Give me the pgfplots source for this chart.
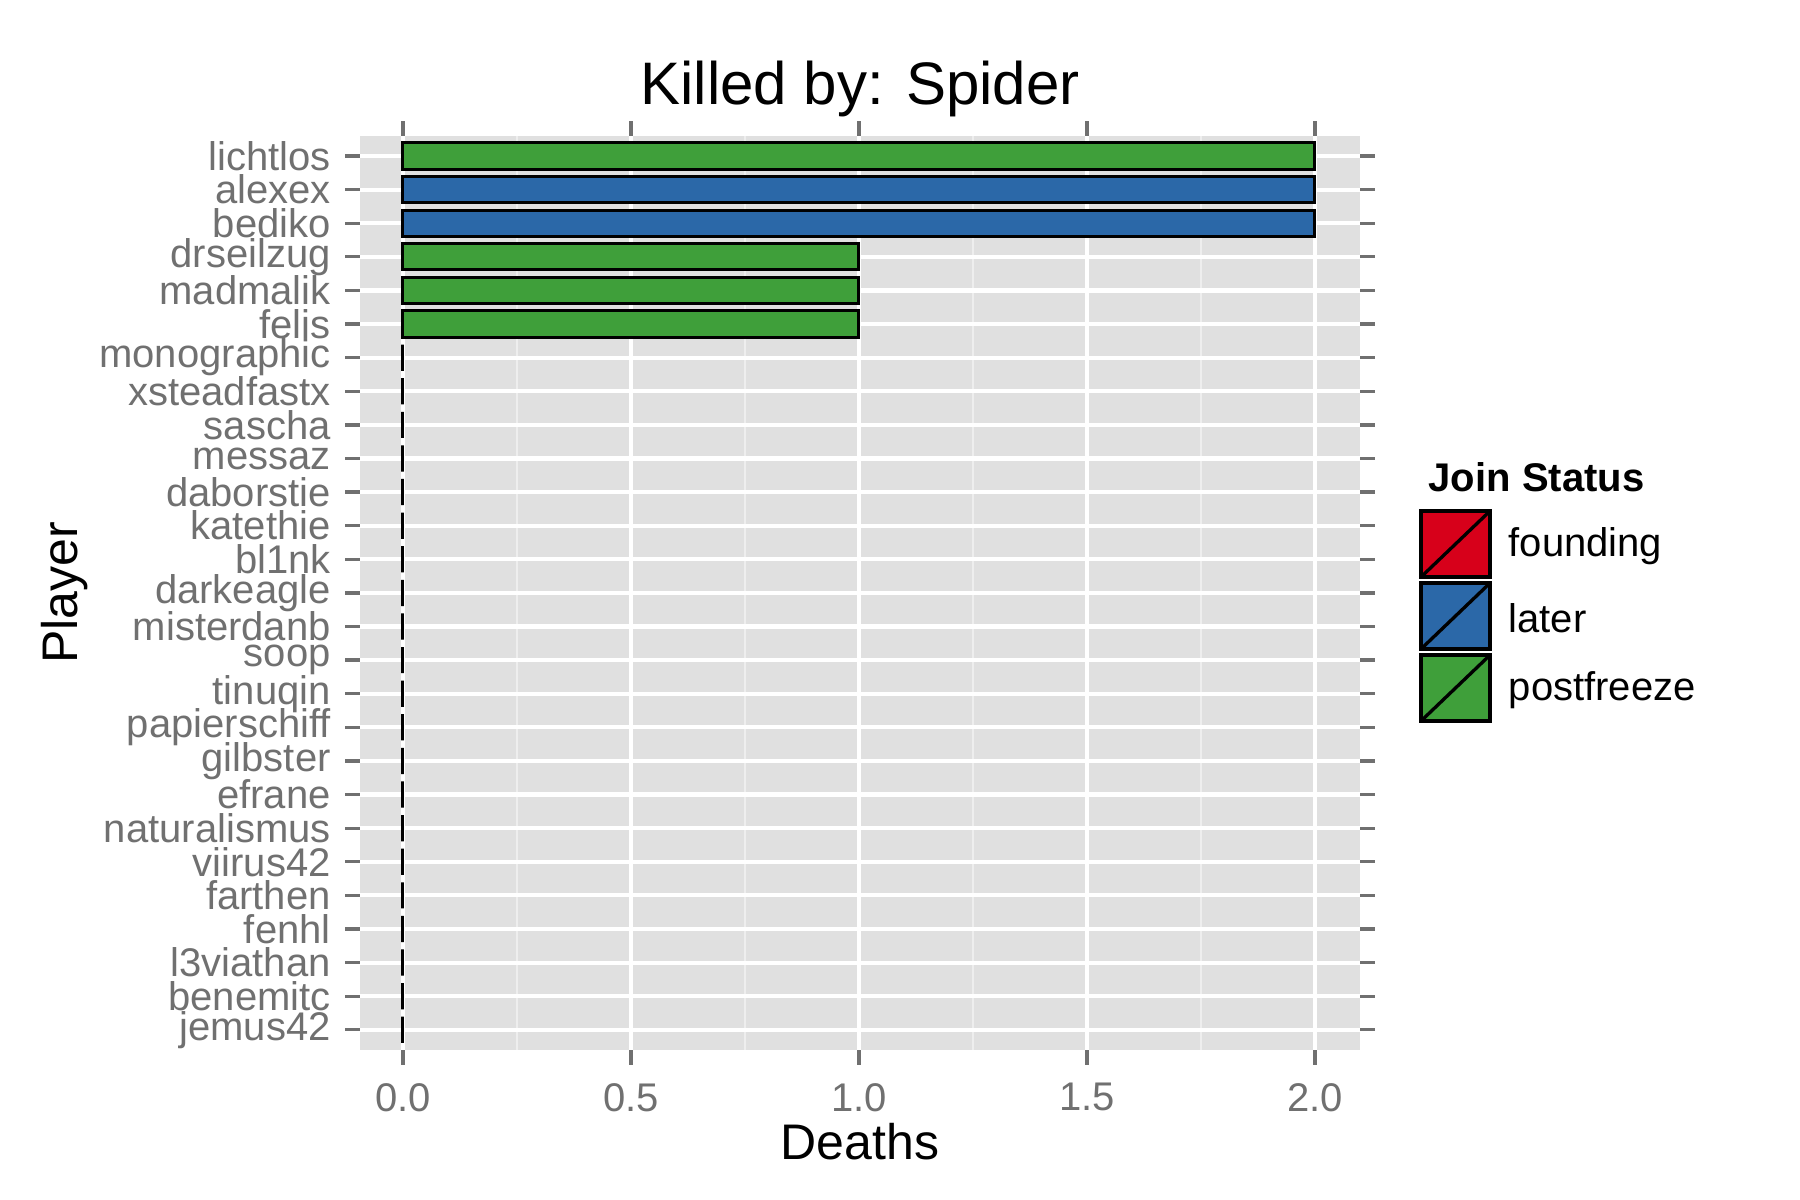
\documentclass[border=0pt]{standalone}
\usepackage{pgfplots}
\pgfplotsset{compat=1.18}
\usepackage{fontspec}
\setmainfont{Liberation Sans}
\definecolor{cfound}{HTML}{D7001A}
\definecolor{clater}{HTML}{2B68A8}
\definecolor{cpost}{HTML}{3F9F3A}
\definecolor{panel}{HTML}{E0E0E0}
\definecolor{minorg}{HTML}{EEEEEE}
\definecolor{tickg}{HTML}{707070}
\begin{document}
\begin{tikzpicture}
\useasboundingbox (0,0) rectangle (432pt,-288pt);
\begin{axis}[at={(86.4pt,-252pt)},anchor=south west,
  width=240pt,height=219.4pt,scale only axis,
  xmin=-0.094,xmax=2.099,ymin=0.4,ymax=27.6,
  axis background/.style={fill=panel},
  axis line style={draw=none},
  xtick={0,0.5,1,1.5,2},
  xticklabels={0.0,0.5,1.0,1.5,2.0},
  minor xtick={0.25,0.75,1.25,1.75},
  ytick={1,...,27},
  yticklabels={jemus42,benemitc,l3viathan,fenhl,farthen,viirus42,naturalismus,efrane,gilbster,papierschiff,tinuqin,soop,misterdanb,darkeagle,bl1nk,katethie,daborstie,messaz,sascha,xsteadfastx,monographic,felis,madmalik,drseilzug,bediko,alexex,lichtlos},
  grid=both,
  major grid style={white,line width=1pt},
  minor grid style={minorg,line width=0.5pt},
  tick style={tickg,line width=0.8pt},
  major tick length=3.5pt,
  xtick align=outside,ytick align=outside,
  minor tick length=0pt,
  tick label style={font=\fontsize{9.6}{11}\selectfont,text=tickg},
  xticklabel style={yshift=-1pt},
  xlabel={Deaths},ylabel={Player},
  label style={font=\fontsize{12}{14}\selectfont},
  xlabel style={yshift=4pt},
  ylabel style={yshift=-4pt},
  title={Killed by: Spider},
  title style={font=\fontsize{14.4}{16}\selectfont,yshift=-5pt},
  xbar, bar width=0.78, bar shift=0pt,
  clip=false,
]
\addplot[fill=cpost,draw=black,line width=0.7pt] coordinates {(2,27) (1,24) (1,23) (1,22)};
\addplot[fill=clater,draw=black,line width=0.7pt] coordinates {(2,26) (2,25)};
\addplot[fill=cpost,draw=black,line width=0.7pt] coordinates {(0,21) (0,20) (0,19) (0,18) (0,17) (0,16) (0,15) (0,14) (0,13) (0,12) (0,11) (0,10) (0,9) (0,8) (0,7) (0,6) (0,5) (0,4) (0,3) (0,2) (0,1)};
\end{axis}
\begin{scope}[x=0.24pt,y=-0.24pt]
\node[anchor=west,font=\bfseries\fontsize{9.6}{11}\selectfont] at (1414,477) {Join Status};
\foreach \c/\t [count=\i from 0] in {cfound/founding,clater/later,cpost/postfreeze}{
  \pgfmathsetmacro\yy{508+72*\i}
  \draw[fill=\c,line width=0.8pt] (1421,\yy+3) rectangle (1490,\yy+69);
  \draw[line width=0.8pt] (1421,\yy+69) -- (1490,\yy+3);
  \node[anchor=west,font=\fontsize{9.6}{11}\selectfont] at (1494,\yy+38) {\t};
}
\end{scope}
\end{tikzpicture}
\end{document}
